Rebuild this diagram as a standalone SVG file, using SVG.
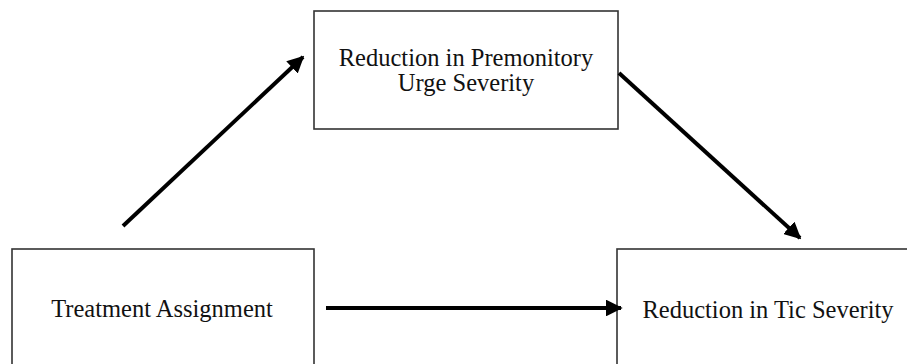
<svg xmlns="http://www.w3.org/2000/svg" width="907" height="364" viewBox="0 0 907 364">
<style>
.box{fill:#fff;stroke:#333;stroke-width:1.6}
.t{font-family:"Liberation Serif","Times New Roman",serif;font-size:24.5px;fill:#111;text-anchor:middle}
.c{stroke:#000;stroke-width:4;fill:none}
</style>
<defs>
<marker id="ah" viewBox="0 0 10 10" refX="9" refY="5" markerWidth="4.2" markerHeight="4.2" orient="auto" markerUnits="strokeWidth">
<path d="M0,0 L10,5 L0,10 z" fill="#000"/>
</marker>
</defs>
<rect width="907" height="364" fill="#fff"/>
<g id="mediator">
<rect class="box" x="314" y="11" width="304" height="118"/>
<text class="t" x="466" y="66">Reduction in Premonitory</text>
<text class="t" x="466" y="91">Urge Severity</text>
</g>
<g id="treatment">
<rect class="box" x="12" y="249" width="302" height="130"/>
<text class="t" x="162" y="317">Treatment Assignment</text>
</g>
<g id="outcome">
<rect class="box" x="617" y="249" width="300" height="130"/>
<text class="t" x="768" y="318">Reduction in Tic Severity</text>
</g>
<g id="connectors">
<line class="c" x1="123" y1="226" x2="303" y2="57" marker-end="url(#ah)"/>
<line class="c" x1="619" y1="73" x2="800" y2="238" marker-end="url(#ah)"/>
<line class="c" x1="326" y1="308" x2="621" y2="308" marker-end="url(#ah)"/>
</g>
</svg>
